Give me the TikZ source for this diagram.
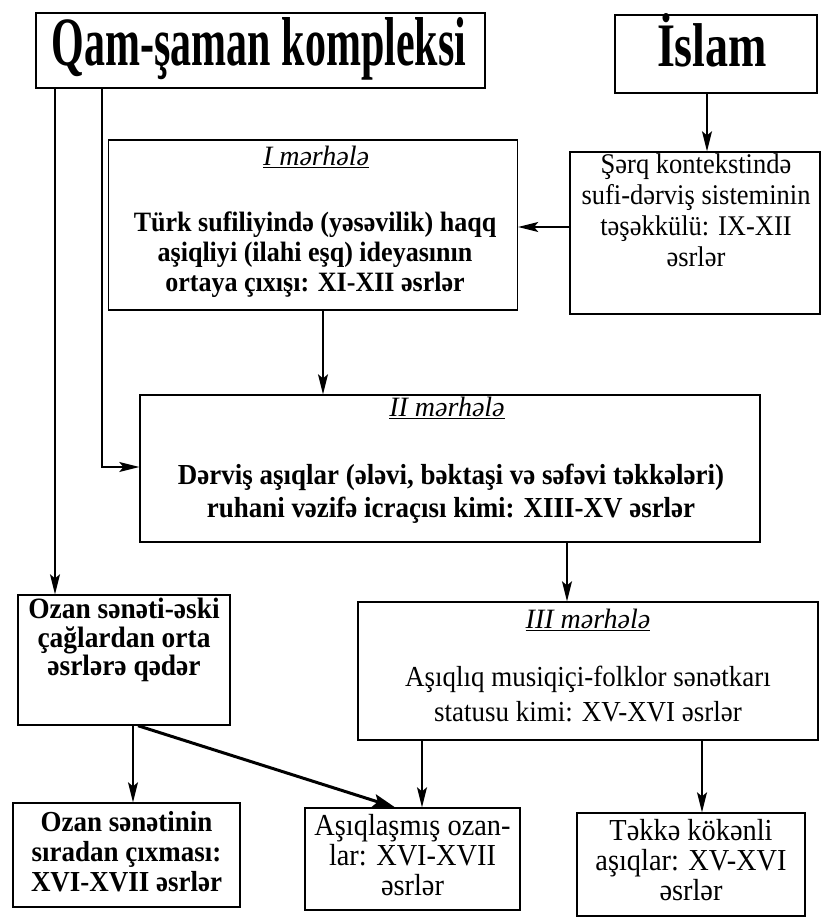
\documentclass[tikz,border=0pt]{standalone}
\usepackage{fontspec}
\setmainfont{Liberation Serif}
\newfontfamily\condf[FakeStretch=0.93]{Liberation Serif}
\usetikzlibrary{arrows.meta}
\begin{document}
\begin{tikzpicture}[x=1pt,y=-1pt,
  box/.style={draw, line width=1.4pt, inner sep=0pt, rectangle},
  txtb/.style={font=\fontsize{29}{30}\condf\bfseries, align=center, inner sep=0pt},
  txtr/.style={font=\fontsize{29}{32}\condf, align=center, inner sep=0pt},
  lbl/.style={font=\fontsize{28}{30}\selectfont\itshape, inner sep=0pt},
  arr/.style={line width=1.4pt, -{Stealth[length=20pt,width=10pt,inset=4pt]}},
  thickarr/.style={line width=3pt, -{Stealth[length=22pt,width=13pt,inset=4pt]}},
]
\useasboundingbox (0,0) rectangle (821,918);
\fill[white] (0,0) rectangle (821,918);

% boxes
\node[box, minimum width=449pt, minimum height=75pt] (qam) at (260.5,50.5) {};
\node[box, minimum width=202pt, minimum height=78pt] (islam) at (716,54) {};
\node[box, minimum width=409pt, minimum height=170pt] (m1) at (313,225) {};
\node[box, minimum width=250pt, minimum height=162pt] (sherq) at (695,233) {};
\node[box, minimum width=620pt, minimum height=147pt] (m2) at (450,468.5) {};
\node[box, minimum width=212pt, minimum height=130pt] (ozan) at (124,660) {};
\node[box, minimum width=460pt, minimum height=138pt] (m3) at (588,671) {};
\node[box, minimum width=227pt, minimum height=104pt] (b1) at (126.5,855) {};
\node[box, minimum width=215pt, minimum height=102pt] (b2) at (412.5,859) {};
\node[box, minimum width=228pt, minimum height=103pt] (b3) at (691,864.5) {};

% titles
\node[inner sep=0pt, anchor=base] (qamt) at (259,65) {\resizebox{414pt}{48pt}{\bfseries Qam-şaman kompleksi}};
\node[inner sep=0pt, anchor=base] (islamt) at (712,66) {\resizebox{110pt}{53pt}{\bfseries İslam}};

% texts
\node[lbl] (m1l) at (316,157) {\underline{I mərhələ}};
\node[txtb, font=\fontsize{28}{30}\condf\bfseries] (m1t) at (315,255) {Türk sufiliyində (yəsəvilik) haqq\\aşiqliyi (ilahi eşq) ideyasının\\ortaya çıxışı: XI-XII əsrlər};
\node[txtr, font=\fontsize{28.5}{31}\condf] (sherqt) at (696,210) {Şərq kontekstində\\sufi-dərviş sisteminin\\təşəkkülü: IX-XII\\əsrlər};
\node[lbl] (m2l) at (447,408) {\underline{II mərhələ}};
\node[txtb, font=\fontsize{29}{33}\condf\bfseries] (m2t) at (451,494) {Dərviş aşıqlar (ələvi, bəktaşi və səfəvi təkkələri)\\ruhani vəzifə icraçısı kimi: XIII-XV əsrlər};
\node[txtb, font=\fontsize{29.5}{28.5}\condf\bfseries] (ozant) at (124,640) {Ozan sənəti-əski\\çağlardan orta\\əsrlərə qədər};
\node[lbl] (m3l) at (588,620) {\underline{III mərhələ}};
\node[txtr, font=\fontsize{29}{35}\condf] (m3t) at (588,694) {Aşıqlıq musiqiçi-folklor sənətkarı\\statusu kimi: XV-XVI əsrlər};
\node[txtb] (b1t) at (126.5,852) {Ozan sənətinin\\sıradan çıxması:\\XVI-XVII əsrlər};
\node[txtr, font=\fontsize{30.5}{30}\condf] (b2t) at (412.5,855) {Aşıqlaşmış ozan-\\lar: XVI-XVII\\əsrlər};
\node[txtr, font=\fontsize{30.5}{30}\condf] (b3t) at (691,860) {Təkkə kökənli\\aşıqlar: XV-XVI\\əsrlər};

% connectors
\draw[arr] (islam.south -| 707,0) -- (sherq.north -| 707,0);
\draw[arr] (sherq.west |- 0,227) -- (m1.east |- 0,227);
\draw[arr] (m1.south -| 323,0) -- (m2.north -| 323,0);
\draw[arr] (m2.south -| 567,0) -- (m3.north -| 567,0);
\draw[arr] (qam.south -| 55,0) -- (ozan.north -| 55,0);
\coordinate (bend) at (102,467);
\draw[arr] (qam.south -| bend) -- (bend) -- (m2.west |- bend);
\draw[arr] (ozan.south -| 133,0) -- (b1.north -| 133,0);
\draw[thickarr] (ozan.south -| 138,0) -- (b2.north -| 395,0);
\draw[arr] (m3.south -| 422,0) -- (b2.north -| 422,0);
\draw[arr] (m3.south -| 702,0) -- (b3.north -| 702,0);
\end{tikzpicture}
\end{document}
